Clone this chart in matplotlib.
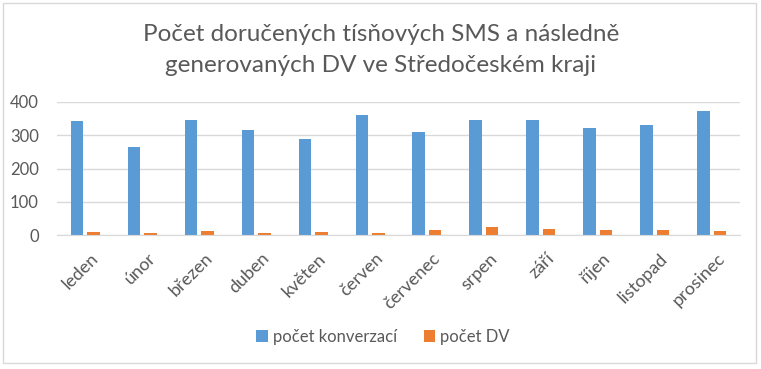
import matplotlib
matplotlib.use("Agg")
import matplotlib.pyplot as plt
import matplotlib.transforms as mtransforms
import numpy as np
from matplotlib.patches import Rectangle

months = ["leden", "únor", "březen", "duben", "květen", "červen",
          "červenec", "srpen", "září", "říjen", "listopad", "prosinec"]
konverzace = [343, 265, 346, 316, 289, 361, 310, 346, 346, 322, 331, 373]
dv = [10, 6, 13, 7, 10, 7, 15, 25, 18, 15, 15, 12]
series_names = ["počet konverzací", "počet DV"]
yticks = [0, 100, 200, 300, 400]
title = "Počet doručených tísňových SMS a následně\ngenerovaných DV ve Středočeském kraji"

plt.rcParams['font.family'] = ['Lato', 'DejaVu Sans']
TXT = "#595959"
BLUE = "#5b9bd5"
ORANGE = "#ed7d31"
GRID = "#d9d9d9"

W, H = 761, 369
fig = plt.figure(figsize=(W / 100, H / 100), dpi=100)
ax = fig.add_axes([57 / W, 1 - 235 / H, (740 - 57) / W, (235 - 102) / H])

x = np.arange(len(months))
bw = 0.22
off = 0.145
ax.bar(x - off, konverzace, bw, color=BLUE, label=series_names[0], zorder=3)
ax.bar(x + off, dv, bw, color=ORANGE, label=series_names[1], zorder=3)

ax.set_xlim(-0.5, len(months) - 0.5)
ax.set_ylim(0, 400)
ax.set_yticks(yticks)
ax.set_yticklabels([str(v) for v in yticks], fontsize=12, color=TXT)
ax.yaxis.grid(True, color=GRID, linewidth=1, zorder=0)
ax.set_xticks(x)
ax.set_xticklabels(months, rotation=45, ha='right', va='top',
                   rotation_mode='anchor', fontsize=13, color=TXT)
ax.tick_params(axis='both', length=0)
ax.tick_params(axis='x', pad=11)
ax.tick_params(axis='y', pad=13)
shift = mtransforms.ScaledTranslation(5 / 100, 0, fig.dpi_scale_trans)
for lbl in ax.get_xticklabels():
    lbl.set_transform(lbl.get_transform() + shift)
for s in ['top', 'right', 'left']:
    ax.spines[s].set_visible(False)
ax.spines['bottom'].set_color(GRID)
ax.spines['bottom'].set_zorder(4)

fig.text(381 / W, 1 - 50 / H, title, ha='center', va='center',
         fontsize=17.5, color=TXT, linespacing=1.6)

fig.legend(loc='center', bbox_to_anchor=(383 / W, 1 - 337 / H), ncol=2,
           frameon=False, fontsize=12, labelcolor=TXT, handlelength=0.7,
           handleheight=0.7, handletextpad=0.3, columnspacing=1.6)

fig.patches.append(Rectangle((3 / W, 1 - 363 / H), 753 / W, 360 / H,
                             transform=fig.transFigure, fill=False,
                             edgecolor=GRID, linewidth=1))

fig.savefig("out.png", dpi=100, facecolor="white")
